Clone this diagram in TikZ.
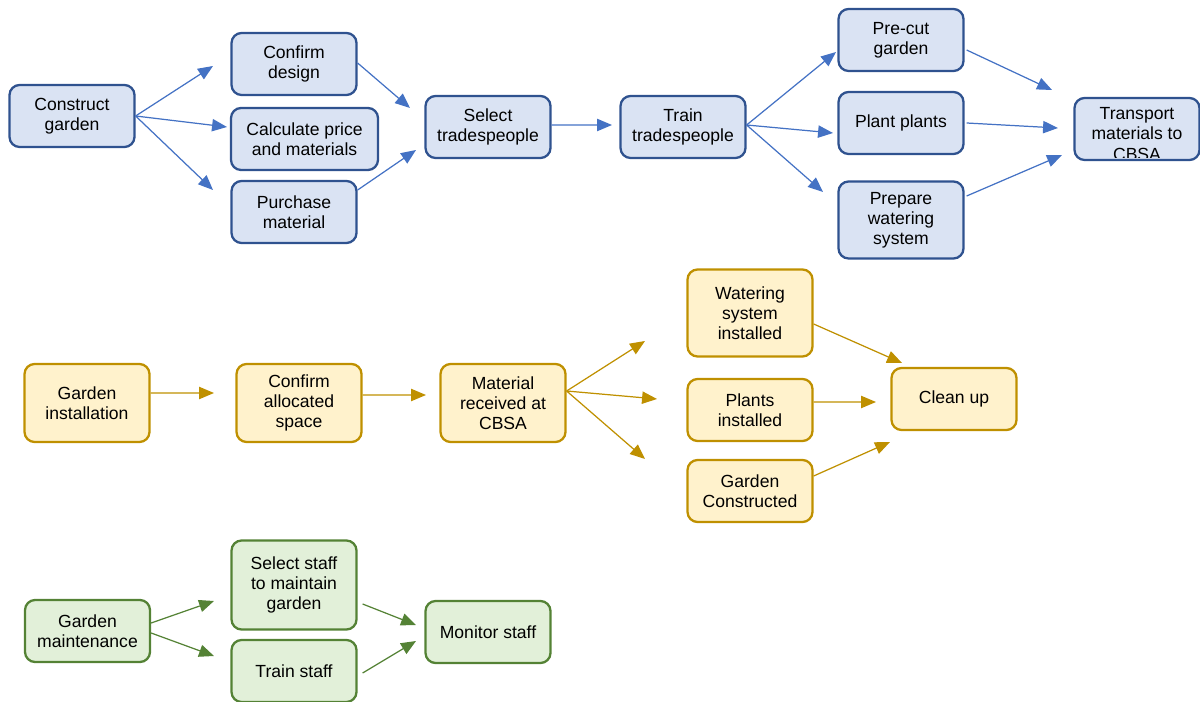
\documentclass[tikz,border=0pt]{standalone}
\usepackage{fontspec}
\setmainfont{Liberation Sans}
\usetikzlibrary{positioning}
\usetikzlibrary{arrows.meta}
\definecolor{bluefill}{HTML}{DAE3F3}
\definecolor{blueline}{HTML}{2F528F}
\definecolor{bluearrow}{HTML}{4472C4}
\definecolor{goldfill}{HTML}{FFF2CC}
\definecolor{goldline}{HTML}{BF9000}
\definecolor{greenfill}{HTML}{E2F0D9}
\definecolor{greenline}{HTML}{548235}
\tikzstyle{task}=[rectangle, rounded corners=0.2cm, line width=1.3pt, minimum width=2.5cm, minimum height=1.24cm, inner sep=1pt]
\tikzstyle{blue task}=[task, fill=bluefill, draw=blueline]
\tikzstyle{gold task}=[task, fill=goldfill, draw=goldline]
\tikzstyle{green task}=[task, fill=greenfill, draw=greenline]
\tikzstyle{link}=[-{Triangle[length=8.5pt,width=7pt]}, line width=0.7pt]
\tikzstyle{blue link}=[link, draw=bluearrow]
\tikzstyle{gold link}=[link, draw=goldline]
\tikzstyle{green link}=[link, draw=greenline]

\begin{document}
\begin{tikzpicture}[x=0.02cm, y=-0.02cm, every text node part/.style={align=center, font=\fontsize{10}{11.5}\selectfont}]
    \useasboundingbox (0,0) rectangle (1200,702);

    % construct garden
    \node[blue task] (construct) at (72,116)  {Construct\\garden};
    \node[blue task] (design)    at (294,64)  {Confirm\\design};
    \node[blue task, minimum width=2.94cm] (price) at (304.5,139) {Calculate price\\and materials};
    \node[blue task] (purchase)  at (294,212) {Purchase\\material};
    \node[blue task] (select)    at (488,127) {Select\\tradespeople};
    \node[blue task] (train)     at (683,127) {Train\\tradespeople};
    \node[blue task] (precut)    at (901,40)  {Pre-cut\\garden};
    \node[blue task] (plant)     at (901,123) {Plant plants};
    \node[blue task, minimum height=1.54cm] (watering) at (901,220) {Prepare\\watering\\system};
    \node[blue task] (transport) at (1137,129) {};
    \begin{scope}
      \clip ([yshift=0.08cm]transport.south west) rectangle (transport.north east);
      \node (transporttext) at (1137,134) {Transport\\materials to\\CBSA};
    \end{scope}

    \coordinate (t1) at (213,66);
    \coordinate (t2) at (227,127);
    \coordinate (t3) at (213,190);
    \coordinate (t4) at (410,108);
    \coordinate (t5) at (416,150);
    \coordinate (t6) at (612,125);
    \coordinate (t7) at (836,52);
    \coordinate (t8) at (833,133);
    \coordinate (t9) at (823,192);
    \coordinate (t10) at (1052,90);
    \coordinate (t11) at (1058,128);
    \coordinate (t12) at (1062,155);

    \draw[blue link] (construct.east) -- (t1);
    \draw[blue link] (construct.east) -- (t2);
    \draw[blue link] (construct.east) -- (t3);
    \draw[blue link] ([yshift=0.02cm]design.east) -- (t4);
    \draw[blue link] ([yshift=0.44cm]purchase.east) -- (t5);
    \draw[blue link] ([yshift=0.04cm]select.east) -- (t6);
    \draw[blue link] ([yshift=0.04cm]train.east) -- (t7);
    \draw[blue link] ([yshift=0.04cm]train.east) -- (t8);
    \draw[blue link] ([yshift=0.04cm]train.east) -- (t9);
    \draw[blue link] ([shift={(0.04cm,-0.2cm)}]precut.east) -- (t10);
    \draw[blue link] ([xshift=0.04cm]plant.east) -- (t11);
    \draw[blue link] ([shift={(0.04cm,0.48cm)}]watering.east) -- (t12);

    % garden installation
    \node[gold task, minimum height=1.56cm] (install)   at (87,403)  {Garden\\installation};
    \node[gold task, minimum height=1.56cm] (space)     at (299,403) {Confirm\\allocated\\space};
    \node[gold task, minimum height=1.56cm] (received)  at (503,403) {Material\\received at\\CBSA};
    \node[gold task, minimum height=1.74cm] (wsystem)   at (750,313) {Watering\\system\\installed};
    \node[gold task] (pinstalled) at (750,410) {Plants\\installed};
    \node[gold task] (constructed) at (750,491) {Garden\\Constructed};
    \node[gold task] (cleanup)   at (954,399) {Clean up};

    \coordinate (g1) at (214,393);
    \coordinate (g2) at (426,395);
    \coordinate (g3) at (645,341);
    \coordinate (g4) at (657,399);
    \coordinate (g5) at (645,459);
    \coordinate (g6) at (902,363);
    \coordinate (g7) at (876,402);
    \coordinate (g8) at (890,442);

    \draw[gold link] ([yshift=0.2cm]install.east) -- (g1);
    \draw[gold link] ([yshift=0.16cm]space.east) -- (g2);
    \draw[gold link] ([yshift=0.24cm]received.east) -- (g3);
    \draw[gold link] ([yshift=0.24cm]received.east) -- (g4);
    \draw[gold link] ([yshift=0.24cm]received.east) -- (g5);
    \draw[gold link] ([yshift=-0.22cm]wsystem.east) -- (g6);
    \draw[gold link] ([yshift=0.16cm]pinstalled.east) -- (g7);
    \draw[gold link] ([yshift=0.3cm]constructed.east) -- (g8);

    % garden maintenance
    \node[green task] (maintenance) at (87.5,631) {Garden\\maintenance};
    \node[green task, minimum height=1.78cm] (staff) at (294,585) {Select staff\\to maintain\\garden};
    \node[green task] (trainstaff) at (294,671) {Train staff};
    \node[green task] (monitor)    at (488,632) {Monitor staff};

    \coordinate (m1) at (214,601);
    \coordinate (m2) at (214,656);
    \coordinate (m3) at (416,625);
    \coordinate (m4) at (416,641);

    \draw[green link] ([yshift=0.16cm]maintenance.east) -- (m1);
    \draw[green link] ([yshift=-0.04cm]maintenance.east) -- (m2);
    \draw[green link] ([shift={(0.1cm,-0.38cm)}]staff.east) -- (m3);
    \draw[green link] ([shift={(0.1cm,-0.04cm)}]trainstaff.east) -- (m4);
\end{tikzpicture}
\end{document}
